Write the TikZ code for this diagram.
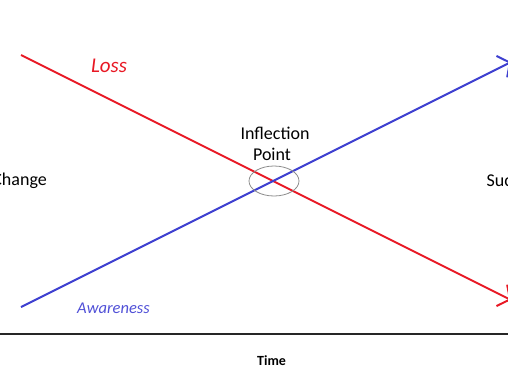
\documentclass[tikz,border=0pt]{standalone}
\usepackage{fontspec}
\setmainfont{Carlito}
\usetikzlibrary{arrows.meta,shapes.geometric}
\definecolor{lossred}{RGB}{232,24,36}
\definecolor{awblue}{RGB}{62,64,208}
\definecolor{lblblue}{RGB}{80,80,215}
\tikzset{
  trend/.style={line width=2pt, -{Straight Barb[angle=106:15pt, line width=2pt]}},
  lbl/.style={inner sep=0pt, font=\fontsize{18}{22}\selectfont},
  hand/.style={inner sep=0pt, font=\fontsize{17}{20}\selectfont\itshape},
}
\begin{document}
\begin{tikzpicture}[x=1pt,y=-1pt]
\useasboundingbox (0,0) rectangle (508,381);
% coordinates
\coordinate (rs) at (21,55);
\coordinate (re) at (511,300);
\coordinate (bs) at (21,307);
\coordinate (be) at (511,62);
\coordinate (al) at (-5,334);
\coordinate (ar) at (515,334);
% axis
\draw[line width=2.2pt, black!85] (al) -- (ar);
% trend lines
\draw[trend, lossred] (rs) -- (re);
\draw[trend, awblue] (bs) -- (be);
% inflection ellipse
\node[draw=black!45, line width=0.8pt, ellipse, minimum width=50pt, minimum height=30pt, inner sep=0pt] (ip) at (274,181) {};
% labels
\node[lbl, anchor=base, align=center] (inf) at (275,139.3) {Inflection};
\node[lbl, anchor=base] (pt) at (272,160.7) {Point};
\node[lbl, anchor=base east] (chg) at (47,185) {Change};
\node[lbl, anchor=base west] (suc) at (486.5,186.7) {Success};
\node[hand, lossred, anchor=base, font=\fontsize{21}{24}\selectfont\itshape] (loss) at (109,72.7) {Loss};
\node[hand, lblblue, anchor=base, font=\fontsize{16.5}{20}\selectfont\itshape] (aw) at (113.5,313.3) {Awareness};
\node[inner sep=0pt, anchor=base west, font=\fontsize{14}{16}\selectfont\bfseries] (time) at (257,365) {Time};
\end{tikzpicture}
\end{document}
